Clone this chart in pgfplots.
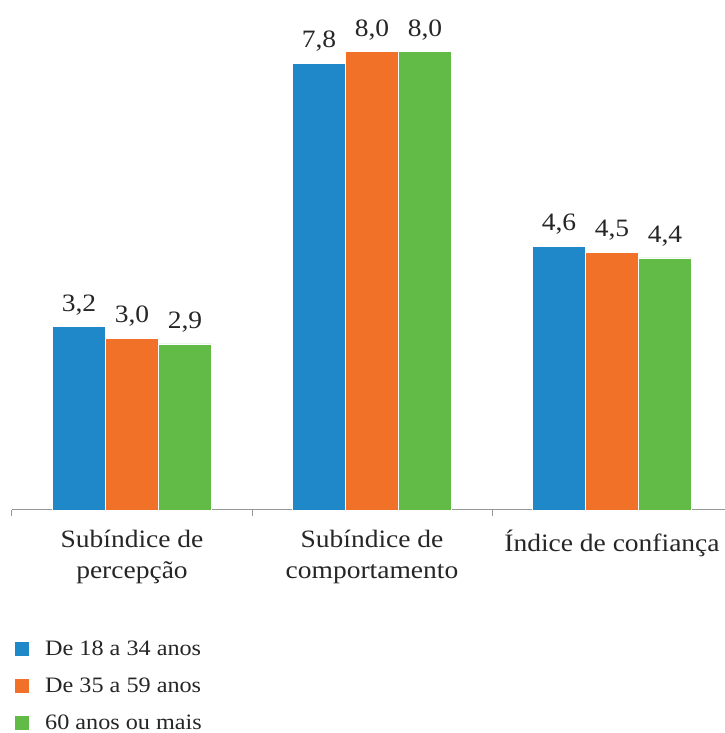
\documentclass[border=0pt]{standalone}
\usepackage{fontspec}
\setmainfont{Liberation Serif}[FakeStretch=1.1]
\usepackage{pgfplots}
\pgfplotsset{compat=1.18}

\definecolor{cblue}{RGB}{30,136,200}
\definecolor{corange}{RGB}{241,113,41}
\definecolor{cgreen}{RGB}{99,187,71}
\definecolor{axgray}{RGB}{150,150,150}
\definecolor{txt}{RGB}{38,38,38}

\newcommand{\lblfont}{\fontsize{25}{29}\selectfont}
\newcommand{\legfont}{\fontsize{22}{26}\selectfont}

\begin{document}
\begin{tikzpicture}[x=1pt,y=1pt]
\useasboundingbox (0,0) rectangle (724,733);
\begin{axis}[
  at={(12pt,223pt)}, anchor=south west,
  scale only axis, width=720pt, height=515.7pt,
  xmin=-0.5, xmax=2.5, ymin=0, ymax=9,
  clip=false,
  axis x line*=bottom, axis y line=none,
  x axis line style={-, draw=axgray, line width=1pt},
  ybar=0pt, bar width=53pt,
  xtick={0,1,2},
  xticklabels={{Subíndice de\\[2pt]percepção},{Subíndice de\\[2pt]comportamento},{Índice de confiança}},
  xticklabel style={align=center, font=\lblfont, text=txt, yshift=-17pt},
  major tick length=0pt,
  minor xtick={-0.5,0.5,1.5,2.5},
  minor tick length=6pt,
  tick align=outside,
  minor tick style={draw=axgray, line width=1pt},
  /pgf/number format/assume math mode=true,
  nodes near coords={\pgfmathprintnumber[fixed, fixed zerofill, precision=1, use comma]{\pgfplotspointmeta}},
  every node near coord/.append style={font=\lblfont, text=txt, anchor=south, yshift=8pt},
  legend style={at={(0.002,-0.251)}, anchor=north west, draw=none, fill=none,
    font=\legfont, text=txt, row sep=19pt, inner sep=0pt,
    nodes={inner sep=1pt}},
  legend cell align=left,
  legend image code/.code={\fill[#1] (0pt,-7.5pt) rectangle (15pt,7.5pt);},
]
\addplot[fill=cblue, draw=white, line width=0.6pt] coordinates {(0,3.2) (1,7.8) (2,4.6)};
\addplot[fill=corange, draw=white, line width=0.6pt] coordinates {(0,3.0) (1,8.0) (2,4.5)};
\addplot[fill=cgreen, draw=white, line width=0.6pt] coordinates {(0,2.9) (1,8.0) (2,4.4)};
\legend{\hspace{15pt}De 18 a 34 anos, \hspace{15pt}De 35 a 59 anos, \hspace{15pt}60 anos ou mais}
\end{axis}
\end{tikzpicture}
\end{document}
